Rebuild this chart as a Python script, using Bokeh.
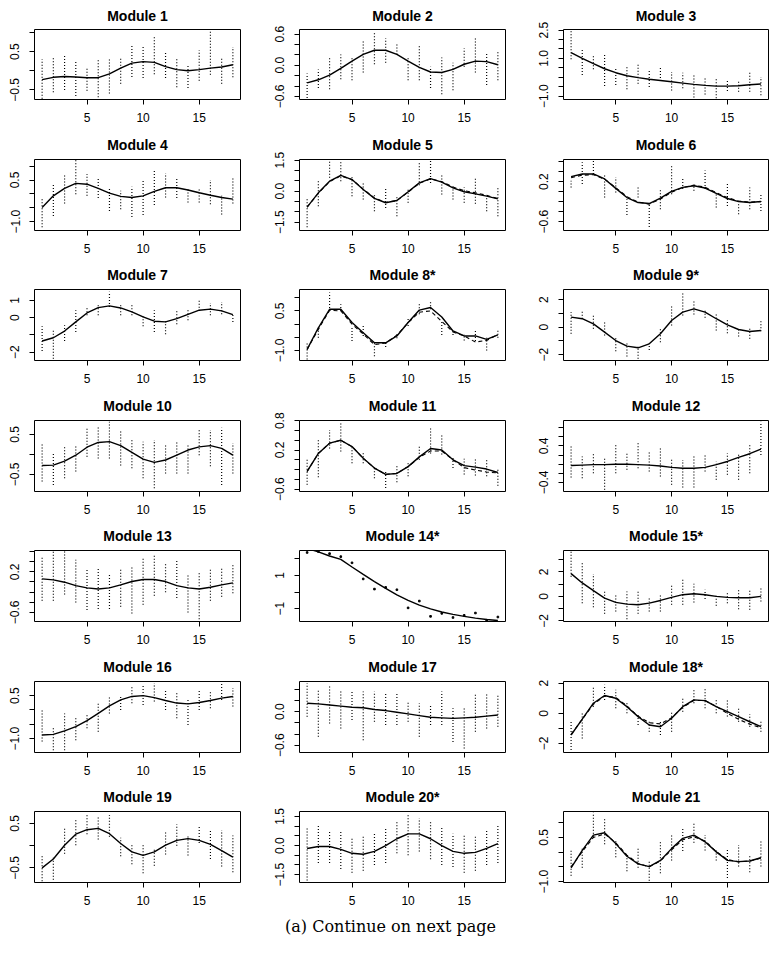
from bokeh.plotting import figure
from bokeh.layouts import row, column
from bokeh.models import FixedTicker, Range1d, Label
from bokeh.embed import file_html
from bokeh.resources import INLINE

# ---------------- data ----------------
days = list(range(1, 19))
x_ticks = [5, 10, 15]

titles = ["Module 1", "Module 2", "Module 3", "Module 4", "Module 5", "Module 6",
          "Module 7", "Module 8*", "Module 9*", "Module 10", "Module 11", "Module 12",
          "Module 13", "Module 14*", "Module 15*", "Module 16", "Module 17", "Module 18*",
          "Module 19", "Module 20*", "Module 21"]

m1_fit = [-0.23, -0.17, -0.15, -0.16, -0.18, -0.18, -0.08, 0.07, 0.20, 0.24, 0.22, 0.11, 0.03, 0.00, 0.03, 0.07, 0.10, 0.16]
m1_hi = [0.30, 0.34, 0.43, 0.23, 0.09, 0.28, 0.33, 0.36, 0.66, 0.62, 0.92, 0.50, 0.34, 0.17, 0.54, 1.02, 0.33, 0.62]
m1_lo = [-0.73, -0.56, -0.50, -0.66, -0.52, -0.69, -0.59, -0.34, -0.16, -0.19, -0.09, -0.19, -0.43, -0.45, -0.26, -0.10, -0.34, -0.17]

m2_fit = [-0.34, -0.28, -0.19, -0.06, 0.08, 0.21, 0.29, 0.29, 0.21, 0.08, -0.04, -0.13, -0.14, -0.08, 0.02, 0.08, 0.07, 0.01]
m2_hi = [-0.16, -0.08, 0.16, 0.21, 0.15, 0.48, 0.64, 0.52, 0.43, 0.16, 0.40, -0.03, 0.15, 0.05, 0.33, 0.53, 0.24, 0.27]
m2_lo = [-0.63, -0.44, -0.46, -0.27, -0.29, -0.14, 0.02, 0.05, 0.21, -0.29, -0.29, -0.44, -0.56, -0.48, -0.03, -0.14, -0.38, -0.29]

m3_fit = [1.30, 1.00, 0.72, 0.45, 0.24, 0.08, -0.02, -0.11, -0.17, -0.24, -0.31, -0.38, -0.43, -0.47, -0.47, -0.45, -0.40, -0.36]
m3_hi = [2.45, 1.48, 1.12, 1.18, 0.54, 0.56, 0.73, 0.33, 0.50, 0.28, 0.24, 0.19, -0.06, -0.06, -0.17, -0.24, 0.29, 0.01]
m3_lo = [0.95, 0.12, 0.42, -0.47, -0.41, -0.64, -0.34, -0.52, -0.20, -0.70, -0.59, -1.08, -0.91, -1.12, -0.73, -0.77, -0.77, -0.96]

m4_fit = [-0.49, -0.07, 0.20, 0.38, 0.35, 0.20, 0.03, -0.09, -0.13, -0.07, 0.09, 0.22, 0.22, 0.14, 0.04, -0.05, -0.13, -0.19]
m4_hi = [-0.17, 0.38, 0.72, 1.23, 0.72, 0.56, 0.20, 0.11, 0.26, 0.50, 0.84, 0.74, 0.56, 0.23, 0.20, 0.50, -0.07, 0.57]
m4_lo = [-1.20, -0.80, -0.35, -0.01, -0.07, -0.15, -0.62, -0.55, -0.83, -0.76, -0.40, -0.13, -0.15, -0.31, -0.31, -0.37, -0.74, -0.35]

m5_fit = [-0.77, -0.08, 0.48, 0.76, 0.56, 0.08, -0.35, -0.56, -0.45, -0.03, 0.40, 0.61, 0.44, 0.16, -0.03, -0.13, -0.24, -0.37]
m5_dash = [-0.77, -0.10, 0.46, 0.74, 0.56, 0.10, -0.33, -0.55, -0.45, -0.05, 0.38, 0.60, 0.46, 0.20, 0.02, -0.08, -0.20, -0.36]
m5_hi = [-0.35, 0.48, 1.45, 1.45, 0.73, 0.40, -0.16, 0.19, -0.24, 0.16, 1.40, 1.48, 0.76, 0.24, 0.19, 0.65, -0.24, 0.24]
m5_lo = [-1.74, -0.73, 0.65, 0.48, -0.24, -0.40, -0.97, -0.81, -1.21, -0.56, 0.29, 0.40, -0.16, -0.40, -0.56, -0.61, -0.97, -1.21]

m6_fit = [0.30, 0.355, 0.355, 0.254, 0.065, -0.118, -0.219, -0.239, -0.131, 0.004, 0.085, 0.119, 0.072, -0.036, -0.138, -0.199, -0.219, -0.199]
m6_dash = [0.28, 0.33, 0.34, 0.25, 0.08, -0.10, -0.21, -0.25, -0.15, -0.01, 0.08, 0.13, 0.09, -0.02, -0.12, -0.19, -0.21, -0.20]
m6_hi = [0.22, 0.59, 0.626, 0.355, 0.288, -0.151, 0.119, -0.239, 0.051, 0.545, 0.254, 0.139, 0.423, -0.016, 0.166, -0.219, 0.085, -0.05]
m6_lo = [0.085, 0.153, 0.355, -0.118, -0.016, -0.469, -0.118, -0.712, -0.354, -0.05, 0.051, 0.018, 0.051, -0.32, -0.286, -0.455, -0.354, -0.388]

m7_fit = [-1.36, -1.17, -0.78, -0.25, 0.27, 0.58, 0.68, 0.56, 0.33, 0.04, -0.21, -0.25, -0.06, 0.19, 0.43, 0.49, 0.39, 0.17]
m7_hi = [-0.50, -0.70, -0.45, 0.43, 0.62, 0.78, 1.50, 0.72, 0.82, 0.14, 0.43, -0.12, 0.47, 0.47, 1.05, 0.85, 0.91, 0.19]
m7_lo = [-1.94, -2.39, -1.36, -0.83, 0.14, 0.14, 0.62, 0.14, 0.14, -0.50, -0.83, -0.97, -0.39, -0.16, 0.39, 0.14, 0.19, -0.25]

m8_fit = [-0.96, -0.14, 0.56, 0.56, 0.06, -0.33, -0.71, -0.71, -0.45, 0.06, 0.53, 0.63, 0.27, -0.26, -0.45, -0.45, -0.58, -0.41]
m8_dash = [-0.96, -0.20, 0.52, 0.50, 0.00, -0.38, -0.78, -0.72, -0.42, 0.05, 0.45, 0.50, 0.10, -0.30, -0.45, -0.68, -0.62, -0.40]
m8_hi = [-0.71, -0.07, 1.20, 0.75, -0.14, -0.07, -0.71, -0.64, -0.33, 0.25, 0.82, 0.86, 0.12, -0.20, -0.39, -0.24, -0.52, -0.20]
m8_lo = [-1.34, -0.52, 0.50, 0.50, -0.64, -0.45, -1.22, -0.87, -0.54, -0.07, 0.37, 0.56, -0.41, -0.41, -0.62, -0.64, -1.00, -0.52]

m9_fit = [0.73, 0.61, 0.24, -0.36, -0.97, -1.38, -1.50, -1.21, -0.48, 0.48, 1.09, 1.33, 1.09, 0.61, 0.17, -0.17, -0.32, -0.24]
m9_hi = [1.09, 1.21, 0.97, 0.36, -0.68, -1.16, -1.41, -1.16, 0.00, 1.58, 2.55, 1.99, 1.33, 0.92, 0.61, -0.12, 0.00, 0.48]
m9_lo = [-0.48, 0.61, -0.12, -0.60, -1.75, -2.13, -2.30, -1.65, -1.09, 0.12, 0.85, 0.92, 0.68, -0.24, -0.44, -0.68, -0.85, -0.29]

m10_fit = [-0.28, -0.27, -0.17, -0.02, 0.18, 0.30, 0.32, 0.22, 0.05, -0.12, -0.20, -0.14, -0.02, 0.11, 0.19, 0.22, 0.15, -0.02]
m10_hi = [0.28, 0.05, 0.23, 0.22, 0.69, 0.69, 0.82, 0.61, 0.36, 0.32, 0.36, 0.23, 0.30, 0.23, 0.61, 0.61, 0.67, 0.28]
m10_lo = [-0.68, -0.77, -0.60, -0.43, -0.06, -0.10, -0.10, -0.28, -0.35, -0.60, -0.85, -0.48, -0.48, -0.48, -0.02, -0.30, -0.77, -0.48]

m11_fit = [-0.24, 0.13, 0.34, 0.40, 0.27, 0.03, -0.17, -0.30, -0.28, -0.14, 0.06, 0.23, 0.20, 0.00, -0.12, -0.15, -0.19, -0.26]
m11_dash = [-0.24, 0.13, 0.34, 0.40, 0.27, 0.03, -0.17, -0.30, -0.28, -0.14, 0.05, 0.18, 0.18, 0.00, -0.16, -0.21, -0.25, -0.27]
m11_hi = [0.00, 0.44, 0.61, 0.78, 0.30, 0.17, -0.14, -0.21, -0.11, -0.04, 0.30, 0.64, 0.52, 0.06, 0.02, 0.03, 0.03, -0.17]
m11_lo = [-0.51, -0.36, 0.23, 0.17, -0.07, -0.07, -0.38, -0.58, -0.46, -0.34, 0.00, 0.13, 0.11, -0.17, -0.30, -0.32, -0.34, -0.53]

m12_fit = [-0.03, -0.02, -0.01, -0.01, 0.00, 0.00, -0.01, -0.02, -0.04, -0.07, -0.09, -0.09, -0.07, -0.01, 0.06, 0.15, 0.23, 0.33]
m12_hi = [0.39, 0.17, 0.24, 0.13, 0.42, 0.24, 0.49, 0.28, 0.36, 0.13, 0.09, 0.17, 0.20, 0.06, 0.24, 0.24, 0.42, 0.93]
m12_lo = [-0.29, -0.31, -0.20, -0.56, -0.20, -0.12, -0.09, -0.16, -0.27, -0.45, -0.51, -0.51, -0.16, -0.34, -0.23, -0.34, -0.20, 0.20]

m13_fit = [0.061, 0.041, -0.005, -0.072, -0.118, -0.138, -0.118, -0.058, 0.008, 0.048, 0.048, 0.008, -0.072, -0.118, -0.138, -0.105, -0.058, -0.019]
m13_hi = [0.491, 0.611, 0.611, 0.438, 0.26, 0.293, 0.16, 0.26, 0.293, 0.478, 0.558, 0.372, 0.412, 0.16, 0.174, 0.26, 0.293, 0.346]
m13_lo = [-0.37, -0.37, -0.25, -0.403, -0.555, -0.535, -0.535, -0.489, -0.621, -0.449, -0.27, -0.204, -0.317, -0.601, -0.734, -0.37, -0.29, -0.224]

m14_fit = [2.62, 2.42, 2.17, 1.97, 1.51, 1.06, 0.63, 0.22, -0.17, -0.50, -0.79, -1.01, -1.20, -1.34, -1.46, -1.57, -1.65, -1.71]
m14_pts = [2.38, 2.44, 2.31, 2.13, 1.76, 0.79, 0.18, 0.28, 0.14, -0.95, -0.54, -1.46, -1.28, -1.53, -1.40, -1.26, -1.69, -1.50]

m15_fit = [1.86, 1.10, 0.47, -0.14, -0.49, -0.63, -0.68, -0.55, -0.33, -0.08, 0.14, 0.22, 0.14, 0.00, -0.08, -0.11, -0.11, 0.00]
m15_hi = [3.70, 2.74, 1.84, 0.55, 0.22, 0.41, 0.41, -0.05, 0.14, 0.96, 1.51, 1.04, 0.55, 0.14, 0.41, 0.60, 0.49, 0.77]
m15_lo = [1.60, -0.55, -0.88, -1.42, -1.23, -1.86, -1.42, -1.23, -1.23, -0.68, -0.68, -0.49, -0.22, -0.77, -0.55, -1.04, -1.10, -0.41]

m16_fit = [-0.87, -0.85, -0.73, -0.58, -0.37, -0.12, 0.14, 0.35, 0.47, 0.50, 0.43, 0.33, 0.24, 0.21, 0.26, 0.33, 0.41, 0.47]
m16_hi = [0.00, -0.64, -0.12, -0.29, -0.12, 0.23, 0.47, 0.47, 0.81, 0.90, 0.93, 0.70, 0.58, 0.41, 0.70, 0.66, 0.93, 0.76]
m16_lo = [-1.10, -1.40, -1.40, -1.05, -0.64, -0.76, -0.12, 0.00, 0.23, 0.17, 0.29, 0.00, -0.29, -0.52, 0.00, 0.06, 0.35, 0.12]

m17_fit = [0.15, 0.14, 0.12, 0.10, 0.08, 0.07, 0.04, 0.02, -0.01, -0.04, -0.07, -0.10, -0.11, -0.12, -0.11, -0.10, -0.08, -0.06]
m17_hi = [0.51, 0.39, 0.45, 0.36, 0.36, 0.36, 0.36, 0.33, 0.33, 0.18, 0.15, 0.12, 0.36, 0.06, 0.09, 0.31, 0.31, 0.30]
m17_lo = [-0.09, -0.45, -0.21, -0.30, -0.15, -0.51, -0.18, -0.24, -0.24, -0.18, -0.45, -0.24, -0.24, -0.54, -0.66, -0.36, -0.30, -0.27]

m18_fit = [-1.44, -0.38, 0.67, 1.18, 1.00, 0.44, -0.22, -0.78, -0.89, -0.33, 0.44, 0.89, 0.84, 0.44, 0.11, -0.22, -0.56, -0.89]
m18_dash = [-1.40, -0.40, 0.60, 1.15, 1.05, 0.50, -0.20, -0.62, -0.70, -0.30, 0.40, 0.85, 0.85, 0.45, 0.00, -0.40, -0.72, -0.95]
m18_hi = [-0.56, 0.11, 1.78, 1.89, 1.56, 0.67, 0.00, -0.56, -0.56, 0.11, 1.00, 1.56, 1.67, 0.89, 0.89, 0.33, -0.07, -0.56]
m18_lo = [-2.44, -1.67, 0.44, 0.89, 0.33, 0.00, -0.78, -1.22, -1.44, -1.22, 0.11, 0.67, 0.33, 0.00, -0.22, -0.56, -0.89, -1.22]

m19_fit = [-0.50, -0.30, 0.01, 0.26, 0.36, 0.39, 0.27, 0.05, -0.14, -0.22, -0.14, 0.01, 0.12, 0.16, 0.12, 0.03, -0.11, -0.26]
m19_hi = [-0.24, -0.26, 0.41, 0.58, 0.73, 0.64, 0.69, 0.18, 0.01, 0.01, -0.09, 0.31, 0.48, 0.23, 0.44, 0.35, 0.35, 0.23]
m19_lo = [-0.80, -0.77, -0.18, 0.01, 0.26, 0.14, 0.20, -0.24, -0.42, -0.62, -0.45, -0.20, 0.00, -0.22, 0.06, -0.30, -0.47, -0.60]

m20_fit = [-0.15, -0.05, -0.05, -0.20, -0.40, -0.45, -0.30, 0.00, 0.35, 0.60, 0.60, 0.35, 0.00, -0.30, -0.40, -0.35, -0.15, 0.10]
m20_hi = [0.90, 1.10, 0.80, 0.80, 0.40, 0.50, 0.60, 0.90, 1.20, 1.60, 1.40, 1.20, 0.90, 0.60, 0.50, 0.50, 0.80, 1.00]
m20_lo = [-1.80, -0.90, -0.90, -1.20, -1.40, -1.30, -1.00, -0.90, -0.40, -0.50, -0.30, -0.70, -1.00, -1.10, -1.40, -1.30, -1.00, -0.90]

m21_fit = [-0.53, 0.06, 0.58, 0.66, 0.29, -0.14, -0.40, -0.49, -0.28, 0.12, 0.47, 0.58, 0.35, 0.01, -0.28, -0.32, -0.30, -0.19]
m21_dash = [-0.50, 0.02, 0.50, 0.62, 0.32, -0.10, -0.38, -0.50, -0.30, 0.08, 0.42, 0.52, 0.38, 0.02, -0.25, -0.33, -0.30, -0.20]
m21_hi = [0.06, 0.18, 1.35, 1.12, 0.43, -0.11, 0.18, -0.28, 0.35, 0.58, 0.81, 1.01, 0.58, 0.06, 0.12, 0.24, -0.11, 0.39]
m21_lo = [-0.80, -0.53, 0.52, 0.27, -0.17, -0.65, -0.53, -0.97, -0.72, -0.28, 0.04, 0.32, 0.06, -0.28, -0.88, -0.49, -0.68, -0.49]

# y-axis ranges, ticks and labelled ticks
y_ranges = [(-0.75, 1.08), (-0.66, 0.69), (-1.18, 2.53), (-1.32, 1.24), (-1.9, 1.53), (-0.78, 0.645),
            (-2.49, 1.63), (-1.38, 1.31), (-2.42, 2.73), (-0.93, 0.85), (-0.65, 0.805), (-0.6, 0.96),
            (-0.78, 0.62), (-1.77, 2.5), (-2.05, 3.75), (-1.48, 0.99), (-0.73, 0.54), (-2.6, 2.11),
            (-0.83, 0.77), (-1.9, 1.75), (-1.03, 1.38)]
y_ticks = [[-0.5, 0, 0.5, 1.0], [-0.6, -0.4, -0.2, 0, 0.2, 0.4, 0.6],
           [-1.0, -0.5, 0, 0.5, 1.0, 1.5, 2.0, 2.5], [-1.0, -0.5, 0, 0.5, 1.0],
           [-1.5, -1.0, -0.5, 0, 0.5, 1.0, 1.5], [-0.6, -0.4, -0.2, 0, 0.2, 0.4, 0.6],
           [-2, -1, 0, 1], [-1.0, -0.5, 0, 0.5, 1.0], [-2, -1, 0, 1, 2],
           [-0.5, 0, 0.5], [-0.6, -0.4, -0.2, 0, 0.2, 0.4, 0.6, 0.8], [-0.4, -0.2, 0, 0.2, 0.4, 0.6, 0.8],
           [-0.6, -0.4, -0.2, 0, 0.2, 0.4, 0.6], [-1, 0, 1, 2], [-2, -1, 0, 1, 2, 3],
           [-1.0, -0.5, 0, 0.5], [-0.6, -0.4, -0.2, 0, 0.2, 0.4], [-2, -1, 0, 1, 2],
           [-0.5, 0, 0.5], [-1.5, -1.0, -0.5, 0, 0.5, 1.0, 1.5], [-1.0, -0.5, 0, 0.5, 1.0]]
y_labelled = [[-0.5, 0.5], [-0.6, 0, 0.6], [-1.0, 1.0, 2.5], [-1.0, 0.5], [-1.5, 0, 1.5], [-0.6, 0.2],
              [-2, 0, 1], [-1.0, 0.5], [-2, 0, 2], [-0.5, 0.5], [-0.6, 0.2, 0.8], [-0.4, 0.4],
              [-0.6, 0.2], [-1, 1], [-2, 0, 2], [-1.0, 0.5], [-0.6, 0], [-2, 0, 2],
              [-0.5, 0.5], [-1.5, 0, 1.5], [-1.0, 0.5]]

fits = [m1_fit, m2_fit, m3_fit, m4_fit, m5_fit, m6_fit, m7_fit, m8_fit, m9_fit, m10_fit, m11_fit,
        m12_fit, m13_fit, m14_fit, m15_fit, m16_fit, m17_fit, m18_fit, m19_fit, m20_fit, m21_fit]
his = [m1_hi, m2_hi, m3_hi, m4_hi, m5_hi, m6_hi, m7_hi, m8_hi, m9_hi, m10_hi, m11_hi,
       m12_hi, m13_hi, None, m15_hi, m16_hi, m17_hi, m18_hi, m19_hi, m20_hi, m21_hi]
los = [m1_lo, m2_lo, m3_lo, m4_lo, m5_lo, m6_lo, m7_lo, m8_lo, m9_lo, m10_lo, m11_lo,
       m12_lo, m13_lo, None, m15_lo, m16_lo, m17_lo, m18_lo, m19_lo, m20_lo, m21_lo]
dashes = [None, None, None, None, m5_dash, m6_dash, None, m8_dash, None, None, m11_dash,
          None, None, None, None, None, None, m18_dash, None, None, m21_dash]
points = [None] * 13 + [m14_pts] + [None] * 7

caption = "(a) Continue on next page"

# ---------------- drawing ----------------
FONT = "Liberation Sans"
MINUS = "\u2212"
X_LO, X_HI = 0.32, 18.68


def fmt(v, dec):
    s = f"{abs(v):.{dec}f}"
    return (MINUS + s) if v < 0 else s


# the page has no body margin, so the first column / row carry the 8px offset
col_l = [34, 29, 29]
col_fw = [206, 206, 205]
col_r = [30, 29, 3]
row_t = [28, 32, 32, 32, 32, 32, 32]
row_b = [28, 27, 28, 27, 28, 27, 30]
row_title_standoff = [11, 14, 14, 14, 14, 14, 14]
FRAME_H = 71

rows = []
for r in range(7):
    figs = []
    for c in range(3):
        i = r * 3 + c
        p = figure(width=col_l[c] + col_fw[c] + col_r[c], height=row_t[r] + FRAME_H + row_b[r],
                   min_border_left=col_l[c], min_border_right=col_r[c],
                   min_border_top=row_t[r], min_border_bottom=row_b[r],
                   x_range=Range1d(X_LO, X_HI), y_range=Range1d(*y_ranges[i]),
                   toolbar_location=None, output_backend="svg", title=titles[i])
        p.title.align = "center"
        p.title.vertical_align = "bottom"
        p.title.text_font = FONT
        p.title.text_font_style = "bold"
        p.title.text_font_size = "14px"
        p.title.text_color = "black"
        p.title.standoff = row_title_standoff[r]
        p.grid.visible = False
        p.outline_line_color = "black"
        p.outline_line_alpha = 1.0
        p.outline_line_width = 1
        p.background_fill_color = "white"
        p.border_fill_color = "white"

        ticks = y_ticks[i]
        dec = 0 if all(float(t).is_integer() for t in ticks) else 1
        overrides = {}
        for t in ticks:
            overrides[float(t)] = fmt(t, dec) if t in y_labelled[i] else ""
        p.yaxis.ticker = FixedTicker(ticks=[float(t) for t in ticks])
        p.yaxis.major_label_overrides = overrides
        p.yaxis.major_label_orientation = "vertical"
        p.xaxis.ticker = FixedTicker(ticks=x_ticks)
        for ax in (p.xaxis, p.yaxis):
            ax.axis_line_color = None
            ax.major_tick_line_color = "black"
            ax.major_tick_out = 5
            ax.major_tick_in = 0
            ax.minor_tick_line_color = None
            ax.major_label_text_font = FONT
            ax.major_label_text_font_size = "12px"
            ax.major_label_text_color = "black"
        p.xaxis.major_label_standoff = 8
        p.yaxis.major_label_standoff = 10

        if his[i] is not None:
            p.segment(x0=days, y0=los[i], x1=days, y1=his[i], line_color="black",
                      line_width=1.2, line_dash="1 2")
        if points[i] is not None:
            p.scatter(days, points[i], marker="square", size=1.6, color="black")
        if dashes[i] is not None:
            p.line(days, dashes[i], line_color="black", line_width=1.1, line_dash="4 3")
        p.line(days, fits[i], line_color="black", line_width=1.4)
        figs.append(p)
    rows.append(row(*figs))

cap = figure(width=771, height=30, x_range=Range1d(0, 1), y_range=Range1d(0, 1),
             toolbar_location=None, output_backend="svg", min_border=0)
cap.axis.visible = False
cap.grid.visible = False
cap.outline_line_color = None
cap.add_layout(Label(x=390 / 771, y=0.55, text=caption, text_align="center", text_baseline="middle",
                     text_font="DejaVu Serif", text_font_size="16px", text_color="black"))

layout = column(*rows, cap)
open("out.html", "w").write(file_html(layout, INLINE))
